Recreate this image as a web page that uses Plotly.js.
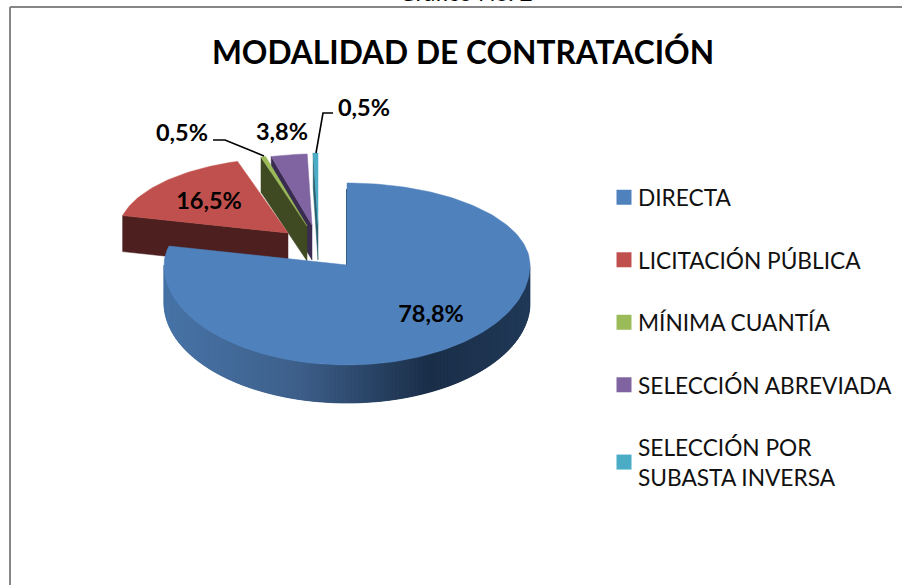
<!DOCTYPE html>
<html><head><meta charset="utf-8">
<script src="https://cdn.plot.ly/plotly-3.0.1.min.js"></script>
<style>html,body{margin:0;padding:0;background:#fff}#c{width:902px;height:585px}</style>
</head><body><div id="c"></div>
<script>
const categories = ["DIRECTA","LICITACIÓN PÚBLICA","MÍNIMA CUANTÍA","SELECCIÓN ABREVIADA","SELECCIÓN POR<br>SUBASTA INVERSA"];
const values = [78.8,16.5,0.5,3.8,0.5];
const colors = ["#4f81bd","#c0504d","#9bbb59","#8064a2","#4bacc6"];
const wallColors = ["#2a4a70","#4d1f1e","#3f4a22","#3a2c50","#2a6070"];

/* view geometry of the tilted pie, in axis units (no data here) */
const centers = [[347,265],[288,233],[307,226],[312,225],[318,225]];
const radiiX  = [183,170,155,153,153];
const backRy  = [82,75,72,71,72];
const frontRy = [100,90,90,90,90];
const depth   = [38,36,35,35,35];
const labelAt = [[431,316],[209,203],[182,135],[282,134],[364,110]];
const leaders = [null,null,[[213,140],[225,140],[264,156]],null,[[333,113],[323,113],[316,153]]];
const shadeStops = [[166,[72,116,167]],[300,[61,95,138]],[430,[26,46,72]],[530,[33,58,88]]];

const total = values.reduce((a,b)=>a+b,0);
const startAngle = [], endAngle = [];
let acc = 0;
values.forEach(v=>{ startAngle.push(acc/total*2*Math.PI); acc+=v; endAngle.push(acc/total*2*Math.PI); });

function pt(i,t,dy){
  const c=Math.cos(t), s=Math.sin(t);
  return [centers[i][0]+radiiX[i]*s, centers[i][1]-c*(c>0?backRy[i]:frontRy[i])+(dy||0)];
}
function poly(pts,color,lw,lc){
  return {type:"scatter",mode:"lines",x:pts.map(p=>p[0]),y:pts.map(p=>p[1]),fill:"toself",fillcolor:color,
    line:{color:lc||color,width:lw===undefined?0.5:lw},showlegend:false,hoverinfo:"skip"};
}
function topFace(i){
  const pts=[centers[i].slice()], n=Math.max(4,Math.ceil((endAngle[i]-startAngle[i])*40));
  for(let k=0;k<=n;k++) pts.push(pt(i,startAngle[i]+(endAngle[i]-startAngle[i])*k/n));
  pts.push(centers[i].slice());
  return poly(pts,colors[i]);
}
function cutWall(i){
  const a=pt(i,startAngle[i]), b=centers[i], d=depth[i];
  return poly([a,b,[b[0],b[1]+d],[a[0],a[1]+d],a],wallColors[i]);
}
function shade(x){
  for(let k=0;k<shadeStops.length-1;k++){
    const A=shadeStops[k],B=shadeStops[k+1];
    if(x<=B[0]){const f=Math.max(0,(x-A[0])/(B[0]-A[0]));
      return "rgb("+A[1].map((v,j)=>Math.round(v+(B[1][j]-v)*f)).join(",")+")";}
  }
  return "rgb("+shadeStops[shadeStops.length-1][1].join(",")+")";
}
const traces=[];
[4,3,2,1].forEach(i=>{traces.push(cutWall(i));traces.push(topFace(i));});
/* curved outer wall of the big slice: overlapping strips so no seam shows */
const N=140;
for(let k=0;k<N;k++){
  const t0=Math.PI/2+Math.PI*k/N, t1=Math.PI/2+Math.PI*Math.min(N,k+3)/N, tm=Math.PI/2+Math.PI*(k+0.5)/N;
  const pts=[];
  for(let j=0;j<=3;j++) pts.push(pt(0,t0+(t1-t0)*j/3));
  for(let j=3;j>=0;j--) pts.push(pt(0,t0+(t1-t0)*j/3,depth[0]));
  pts.push(pts[0]);
  traces.push(poly(pts,shade(pt(0,tm)[0]),0.3));
}
traces.push(topFace(0));
/* inner cut edge of the big slice */
{const a=pt(0,startAngle[0]);
 traces.push({type:"scatter",mode:"lines",x:[a[0]-0.5,centers[0][0]-0.5],y:[a[1]+6,centers[0][1]],line:{color:"#3a5f8c",width:1},showlegend:false,hoverinfo:"skip"});}
/* leader lines */
leaders.forEach(l=>{ if(l) traces.push({type:"scatter",mode:"lines",x:l.map(p=>p[0]),y:l.map(p=>p[1]),line:{color:"#000",width:1.6},showlegend:false,hoverinfo:"skip"}); });
/* value labels */
traces.push({type:"scatter",mode:"text",x:labelAt.map(p=>p[0]),y:labelAt.map(p=>p[1]),
  text:values.map(v=>v.toFixed(1).replace(".",",")+"%"),textposition:"middle center",cliponaxis:false,
  textfont:{family:"Lato",size:23.5,color:"#000",weight:"bold"},showlegend:false,hoverinfo:"skip"});
/* legend */
categories.forEach((c,i)=>traces.push({type:"scatter",mode:"markers",x:[null],y:[null],name:c,legendgroup:"g"+i,
  marker:{symbol:"square",size:15,color:colors[i]},showlegend:true,hoverinfo:"skip"}));

const layout={
  width:902,height:585,margin:{l:0,r:0,t:0,b:0,autoexpand:false},paper_bgcolor:"#fff",plot_bgcolor:"#fff",
  xaxis:{range:[0,902],visible:false,fixedrange:true},
  yaxis:{range:[585,0],visible:false,fixedrange:true},
  title:{text:"<b>MODALIDAD DE CONTRATACIÓN</b>",x:463/902,xanchor:"center",y:1-53/585,yanchor:"middle",
    font:{family:"Lato",size:31.7,color:"#000"}},
  legend:{x:598/902,y:1-176/585,xanchor:"left",yanchor:"top",tracegroupgap:30,bgcolor:"rgba(0,0,0,0)",itemwidth:30,
    font:{family:"Lato",size:22.7,color:"#111"}},
  annotations:[{text:"Gráfico No. 2",xref:"paper",yref:"paper",x:466/902,y:1-8/585,xanchor:"center",yanchor:"bottom",showarrow:false,
    font:{family:"Lato",size:23,color:"#000"}}],
  shapes:[{type:"line",xref:"paper",yref:"paper",x0:10/902,x1:10/902,y0:0,y1:1-7/585,line:{color:"#868686",width:2}},
          {type:"line",xref:"paper",yref:"paper",x0:10/902,x1:1,y0:1-7/585,y1:1-7/585,line:{color:"#868686",width:2}}],
  showlegend:true
};
Plotly.newPlot("c",traces,layout,{displayModeBar:false,staticPlot:true}).then(()=>{
  /* the reference legend keeps its swatches close to the text */
  document.querySelectorAll(".legend .legendsymbols").forEach(g=>g.setAttribute("transform","translate(6,0)"));
});
</script></body></html>
